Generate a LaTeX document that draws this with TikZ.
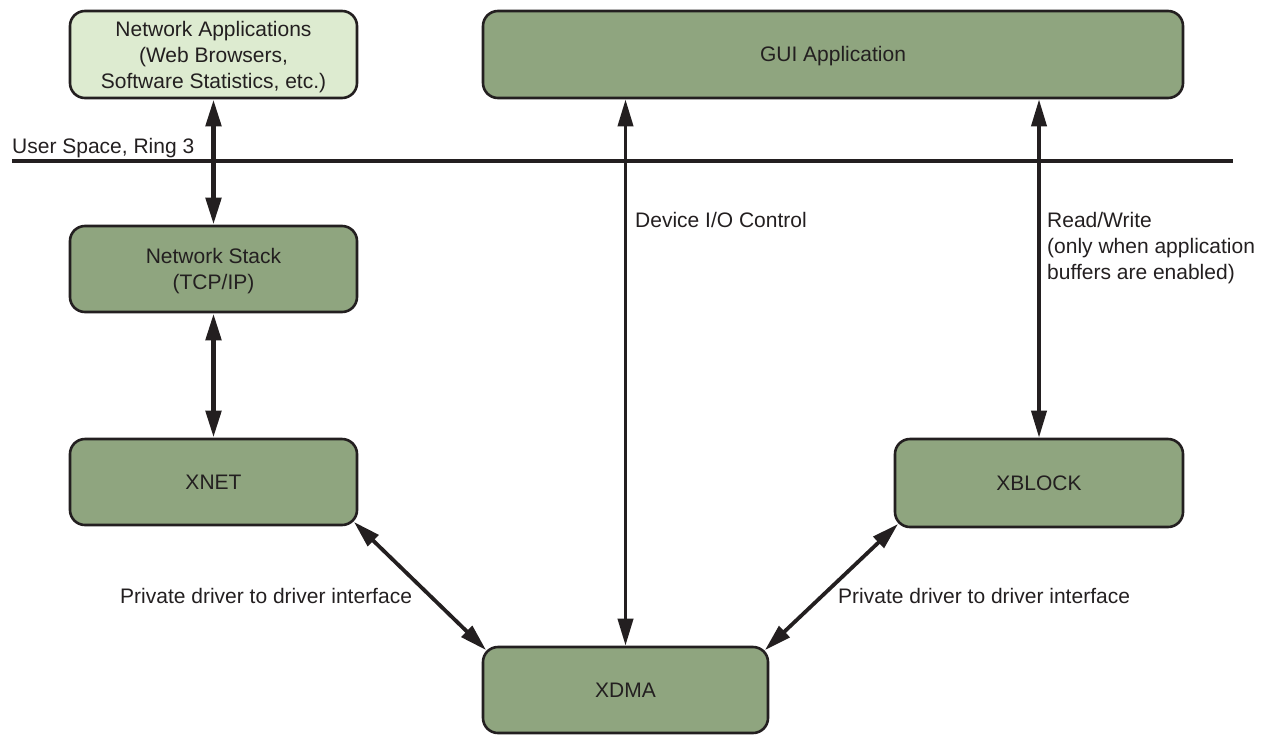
\documentclass[tikz,border=0pt]{standalone}
\usepackage{fontspec}
\setmainfont{Liberation Sans}
\usetikzlibrary{arrows.meta,calc}
\definecolor{dkgreen}{HTML}{8FA57F}
\definecolor{ltgreen}{HTML}{DDEBD0}
\definecolor{ink}{HTML}{231F20}
\tikzset{
  box/.style={draw=ink, line width=2.6pt, rounded corners=15pt, fill=dkgreen,
    text=ink, align=center, inner sep=0pt,
    font=\fontsize{21}{26}\selectfont},
  lbl/.style={text=ink, inner sep=0pt, align=left, font=\fontsize{21}{26}\selectfont},
  arr/.style={draw=ink, line width=3.8pt,
    {Triangle[length=27pt,width=15pt]}-{Triangle[length=27pt,width=15pt]}},
  thickarr/.style={arr, line width=5pt},
}
\begin{document}
\begin{tikzpicture}[x=1pt,y=-1pt]
\useasboundingbox (0,0) rectangle (1265,734);

\node[box, fill=ltgreen, minimum width=287pt, minimum height=87pt] (netapp) at (213.5,54.5)
  {\rule{0pt}{21pt}Network Applications\\(Web Browsers,\\Software Statistics, etc.)};
\node[box, minimum width=700pt, minimum height=87pt] (gui) at (833,54.5) {\rule{0pt}{19pt}GUI Application};
\node[box, minimum width=287pt, minimum height=86pt] (netstack) at (213.5,269) {\rule{0pt}{19pt}Network Stack\\(TCP/IP)};
\node[box, minimum width=287pt, minimum height=86pt] (xnet) at (213.5,482) {XNET};
\node[box, minimum width=288pt, minimum height=88pt] (xblock) at (1039,483) {XBLOCK};
\node[box, minimum width=285pt, minimum height=86pt] (xdma) at (625.5,690) {XDMA};

% user/kernel divider
\coordinate (divL) at (12,161);
\coordinate (divR) at (1233,161);
\draw[ink, line width=3.3pt] (divL) -- (divR);
\node[lbl, anchor=base west] (userspace) at (12,153) {User Space, Ring 3};

% connectors
\draw[thickarr] (netapp) -- (netstack);
\draw[thickarr] (netstack) -- (xnet);
\draw[arr] (gui.south -| xdma.north) -- (xdma.north);
\draw[arr] (gui.south -| xblock.north) -- (xblock.north);
\draw[arr] ($(xnet.south east)+(-4.4,-4.4)$) -- ($(xdma.north west)+(4.4,4.4)$);
\draw[arr] ($(xblock.south west)+(4.4,-4.4)$) -- ($(xdma.north east)+(-4.4,4.4)$);

% labels
\node[lbl, anchor=base west] (ioctl) at (635,227) {Device I/O Control};
\node[lbl, anchor=north west] (rw) at (1047,212)
  {Read/Write\\(only when application\\buffers are enabled)};
\node[lbl, anchor=base west] (privL) at (120,603) {Private driver to driver interface};
\node[lbl, anchor=base west] (privR) at (838,603) {Private driver to driver interface};
\end{tikzpicture}
\end{document}
